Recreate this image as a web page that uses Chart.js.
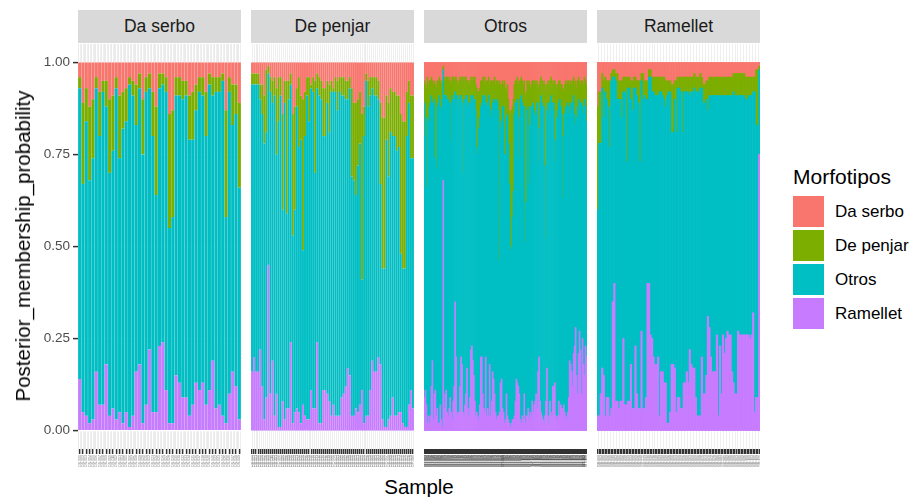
<!DOCTYPE html>
<html>
<head>
<meta charset="utf-8">
<script src="https://cdn.jsdelivr.net/npm/chart.js"></script>
<style>
  body { margin:0; background:#fff; width:914px; height:497px; position:relative; overflow:hidden;
         font-family:"Liberation Sans", Arial, sans-serif; }
  canvas { position:absolute; top:44px; }
  .strip { position:absolute; top:10px; height:33px; width:163px; background:#D9D9D9; color:#1A1A1A;
           font-size:17.5px; line-height:33px; text-align:center; }
  .ytitle { position:absolute; left:23px; top:246px; transform:translate(-50%,-50%) rotate(-90deg);
            font-size:20.5px; white-space:nowrap; color:#000; }
  .xtitle { position:absolute; left:419px; top:487px; transform:translate(-50%,-50%); font-size:20.5px; color:#000; }
  .legtitle { position:absolute; left:793px; top:165px; font-size:21px; color:#000; }
  .key { position:absolute; left:793px; width:31px; height:31px; }
  .leglab { position:absolute; left:835px; font-size:17px; color:#000; line-height:20px; }
</style>
</head>
<body>
<div class="strip" style="left:78px">Da serbo</div>
<div class="strip" style="left:251px">De penjar</div>
<div class="strip" style="left:424px">Otros</div>
<div class="strip" style="left:597px">Ramellet</div>

<canvas id="c1" width="241" height="429" style="left:0px"></canvas>
<canvas id="c2" width="163" height="429" style="left:251px"></canvas>
<canvas id="c3" width="163" height="429" style="left:424px"></canvas>
<canvas id="c4" width="163" height="429" style="left:597px"></canvas>

<div class="ytitle">Posterior_membership_probability</div>
<div class="xtitle">Sample</div>
<div id="legend"></div>

<script>
const morfotipos = ['Da serbo', 'De penjar', 'Otros', 'Ramellet'];
const colores = ['#F8766D', '#7CAE00', '#00BFC4', '#C77CFF'];
const yTicks = [0, 0.25, 0.5, 0.75, 1];

// Da serbo
const serboDS = [.04,.11,.07,.12,.10,.04,.08,.05,.05,.10,.09,.04,.09,.08,.07,.04,.05,.06,.03,.10,.04,.03,.08,.12,.03,.03,.04,.14,.13,.04,.04,.05,.05,.09,.08,.06,.04,.04,.08,.03,.04,.04,.04,.03,.13,.04,.06,.06,.11];
const serboDP = [.03,.22,.09,.20,.16,.03,.12,.03,.07,.20,.15,.03,.17,.10,.09,.02,.04,.11,.04,.15,.04,.04,.12,.24,.04,.03,.04,.31,.29,.05,.05,.05,.04,.12,.13,.07,.04,.05,.12,.03,.05,.04,.04,.02,.29,.04,.11,.08,.23];
const serboOT = [.79,.62,.80,.66,.71,.77,.73,.85,.70,.66,.70,.90,.69,.80,.79,.93,.87,.67,.75,.73,.85,.71,.75,.59,.70,.70,.81,.53,.56,.76,.78,.81,.82,.75,.72,.74,.81,.78,.73,.83,.72,.86,.85,.91,.56,.82,.67,.74,.63];
const serboRA = [.14,.05,.04,.02,.03,.16,.07,.07,.18,.04,.06,.03,.05,.02,.05,.01,.04,.16,.18,.02,.07,.22,.05,.05,.23,.24,.11,.02,.02,.15,.13,.09,.09,.04,.07,.13,.11,.13,.07,.11,.19,.06,.07,.04,.02,.10,.16,.12,.03];

// De penjar
const penjarDS = [.03,.03,.03,.03,.06,.06,.09,.02,.01,.04,.05,.04,.07,.04,.04,.14,.05,.05,.05,.03,.14,.12,.07,.04,.09,.10,.08,.04,.04,.06,.04,.05,.03,.04,.05,.07,.07,.05,.06,.05,.07,.04,.05,.04,.04,.04,.05,.05,.04,.07,.11,.11,.10,.08,.14,.12,.03,.05,.04,.04,.04,.04,.05,.11,.15,.15,.09,.11,.07,.08,.08,.09,.09,.14,.16,.16,.08,.05,.09,.09];
const penjarDP = [.03,.03,.03,.03,.04,.08,.13,.17,.02,.04,.06,.05,.18,.12,.05,.26,.06,.36,.05,.03,.33,.28,.05,.19,.12,.41,.12,.05,.12,.01,.04,.25,.04,.05,.05,.13,.13,.06,.13,.03,.01,.04,.08,.04,.05,.05,.05,.05,.03,.24,.21,.25,.18,.14,.45,.08,.02,.07,.05,.03,.05,.05,.05,.22,.41,.41,.12,.20,.12,.12,.12,.15,.14,.38,.40,.40,.12,.06,.17,.17];
const penjarOT = [.78,.74,.78,.78,.68,.74,.75,.72,.52,.82,.70,.87,.65,.83,.90,.52,.86,.53,.84,.70,.51,.55,.82,.72,.77,.42,.76,.88,.81,.82,.86,.64,.69,.89,.88,.69,.69,.79,.73,.88,.85,.88,.83,.88,.82,.81,.78,.73,.78,.65,.64,.58,.67,.71,.30,.78,.91,.84,.80,.74,.75,.75,.70,.49,.41,.43,.78,.66,.77,.71,.76,.72,.72,.43,.42,.43,.79,.82,.63,.68];
const penjarRA = [.16,.20,.16,.16,.22,.12,.03,.09,.45,.10,.19,.04,.10,.01,.01,.08,.03,.06,.06,.24,.02,.05,.06,.05,.02,.07,.04,.03,.03,.11,.06,.06,.24,.02,.02,.11,.11,.10,.08,.04,.07,.04,.04,.04,.09,.10,.12,.17,.15,.04,.04,.06,.05,.07,.11,.02,.04,.04,.11,.19,.16,.16,.20,.18,.03,.01,.01,.03,.04,.09,.04,.04,.05,.05,.02,.01,.01,.07,.11,.06];

// Otros
const otrosDS = [.05,.06,.07,.04,.06,.05,.05,.04,.05,.06, .05,.06,.07,.05,.05,.04,.05,.06,.05,.01,
  .04,.05,.04,.04,.05,.04,.05,.06,.04,.04, .05,.04,.04,.05,.06,.05,.04,.05,.04,.04,
  .05,.04,.04,.05,.05,.05,.06,.04,.05,.04, .05,.04,.06,.07,.08,.08,.07,.05,.05,.04,
  .05,.04,.06,.05,.05,.04,.06,.05,.05,.05, .05,.04,.06,.05,.05,.06,.05,.06,.06,.05,
  .06,.05,.07,.08,.06,.10,.13,.14,.13,.12, .10,.06,.05,.05,.04,.06,.05,.05,.04,.05,
  .06,.05,.09,.08,.05,.06,.05,.07,.06,.05, .05,.06,.05,.06,.05,.07,.06,.05,.04,.05,
  .06,.05,.06,.08,.06,.05,.06,.05,.04,.05, .06,.05,.05,.06,.07,.06,.05,.05,.06,.06,
  .07,.08,.06,.05,.06,.05,.05,.06,.05,.06, .05,.04,.06,.05,.07,.05,.04,.05,.06,.05,
  .05,.06,.04,.05,.06];
const otrosDP = [.06,.14,.08,.30,.10,.07,.06,.05,.06,.05, .05,.20,.22,.07,.06,.05,.08,.06,.05,.01,
  .05,.04,.05,.06,.05,.07,.06,.15,.05,.06, .05,.04,.05,.04,.06,.05,.05,.04,.07,.26,
  .05,.06,.05,.04,.07,.06,.05,.05,.06,.05, .05,.06,.07,.16,.17,.10,.08,.07,.06,.05,
  .05,.05,.05,.06,.07,.05,.06,.10,.08,.06, .05,.06,.05,.06,.05,.07,.49,.10,.12,.07,
  .06,.20,.18,.07,.08,.12,.20,.36,.38,.30, .25,.08,.06,.06,.06,.20,.10,.05,.05,.06,
  .06,.07,.40,.30,.08,.06,.28,.10,.06,.07, .06,.07,.10,.08,.06,.20,.12,.06,.05,.06,
  .06,.07,.42,.20,.07,.06,.08,.06,.05,.06, .07,.06,.22,.15,.08,.07,.06,.05,.06,.08,
  .30,.12,.08,.07,.06,.06,.07,.08,.06,.07, .06,.05,.08,.12,.08,.07,.06,.08,.05,.06,
  .07,.08,.06,.07,.10];
const otrosOT = [.80,.69,.78,.64,.80,.86,.85,.79,.70,.86, .80,.63,.67,.82,.87,.89,.80,.85,.89,.30,
  .85,.81,.80,.85,.86,.83,.80,.74,.88,.82, .78,.57,.71,.87,.83,.85,.79,.71,.71,.65,
  .86,.83,.81,.74,.82,.85,.80,.69,.66,.72, .75,.82,.83,.72,.71,.79,.78,.68,.69,.81,
  .84,.86,.69,.85,.82,.87,.70,.81,.79,.73, .76,.80,.84,.86,.86,.83,.41,.71,.68,.82,
  .83,.73,.72,.75,.82,.75,.65,.49,.47,.55, .62,.82,.81,.75,.77,.62,.75,.87,.89,.85,
  .85,.78,.49,.58,.83,.82,.64,.78,.84,.80, .84,.80,.77,.76,.83,.57,.62,.81,.86,.85,
  .85,.86,.48,.64,.70,.85,.84,.81,.86,.85, .75,.77,.60,.75,.82,.83,.81,.86,.81,.80,
  .57,.73,.81,.84,.85,.84,.79,.67,.71,.71, .77,.70,.63,.55,.70,.78,.69,.60,.67,.79,
  .63,.68,.75,.65,.64];
const otrosRA = [.09,.11,.07,.02,.04,.02,.04,.12,.19,.03, .10,.11,.04,.06,.02,.02,.07,.03,.01,.68,
  .06,.10,.11,.05,.04,.06,.09,.05,.03,.08, .12,.35,.20,.04,.05,.05,.12,.20,.18,.05,
  .04,.07,.10,.17,.06,.04,.09,.22,.23,.19, .15,.08,.04,.05,.04,.03,.07,.20,.20,.10,
  .06,.05,.20,.04,.06,.04,.18,.04,.08,.16, .14,.10,.05,.03,.04,.04,.05,.13,.14,.06,
  .05,.02,.03,.10,.04,.03,.02,.01,.02,.03, .03,.04,.08,.14,.13,.12,.10,.03,.02,.04,
  .03,.10,.02,.04,.04,.06,.03,.05,.04,.08, .05,.07,.08,.10,.06,.16,.20,.08,.05,.04,
  .03,.02,.04,.08,.17,.04,.02,.08,.05,.04, .12,.12,.13,.04,.03,.04,.08,.04,.07,.06,
  .06,.07,.05,.04,.03,.05,.09,.19,.18,.16, .12,.21,.23,.28,.15,.10,.21,.27,.22,.10,
  .25,.18,.15,.23,.20];

// Ramellet
const ramelletDS = [.12,.08,.08,.03,.05,.04,.05,.05,.05,.03, .02,.02,.03,.03,.05,.05,.05,.04,.04,.04,
  .04,.04,.05,.05,.04,.04,.05,.05,.05,.03, .03,.05,.05,.05,.02,.02,.04,.04,.04,.04,
  .04,.04,.04,.04,.04,.05,.05,.05,.05,.06, .06,.05,.05,.04,.04,.04,.04,.04,.04,.04,
  .04,.04,.04,.04,.03,.04,.04,.04,.03,.04, .06,.06,.05,.05,.04,.04,.04,.04,.04,.04,
  .04,.04,.04,.04,.04,.04,.04,.04,.04,.04, .03,.03,.03,.03,.03,.03,.03,.03,.04,.04,
  .04,.04,.04,.04,.04,.02,.02,.01];
const ramelletDP = [.28,.14,.14,.04,.10,.04,.05,.07,.18,.02, .02,.02,.02,.07,.05,.05,.10,.04,.04,.23,
  .03,.03,.05,.08,.03,.03,.04,.06,.22,.02, .07,.04,.05,.05,.02,.02,.04,.04,.05,.05,
  .05,.04,.04,.05,.06,.07,.04,.03,.03,.13, .13,.05,.14,.03,.03,.04,.15,.04,.04,.04,
  .04,.05,.04,.04,.04,.04,.04,.04,.04,.03, .05,.05,.05,.08,.05,.05,.05,.05,.05,.05,
  .05,.05,.05,.05,.05,.05,.05,.05,.05,.05, .05,.06,.06,.06,.06,.06,.06,.06,.06,.06,
  .05,.05,.05,.04,.04,.15,.15,.01];
const ramelletOT = [.56,.74,.68,.76,.70,.88,.81,.79,.73,.89, .61,.56,.87,.82,.84,.82,.77,.67,.85,.66,
  .85,.85,.72,.81,.87,.70,.81,.83,.67,.68, .84,.85,.81,.50,.56,.70,.67,.72,.73,.73,
  .71,.88,.76,.75,.77,.75,.89,.90,.87,.63, .63,.73,.76,.84,.84,.86,.75,.79,.79,.76,
  .79,.69,.74,.75,.76,.83,.88,.88,.89,.73, .79,.79,.75,.56,.63,.71,.75,.75,.75,.65,
  .87,.68,.81,.65,.70,.66,.64,.65,.65,.75, .79,.81,.81,.64,.65,.65,.65,.65,.64,.64,
  .65,.66,.65,.60,.87,.74,.74,.23];
const ramelletRA = [.04,.04,.10,.17,.15,.04,.09,.09,.04,.06, .35,.40,.08,.08,.06,.08,.08,.25,.07,.07,
  .08,.08,.18,.06,.06,.23,.10,.06,.06,.27, .06,.06,.09,.40,.40,.26,.25,.20,.18,.18,
  .20,.04,.16,.16,.13,.13,.02,.02,.05,.18, .18,.17,.05,.09,.09,.06,.06,.13,.13,.16,
  .13,.22,.18,.17,.17,.09,.04,.04,.04,.20, .10,.10,.15,.31,.28,.20,.16,.16,.16,.26,
  .04,.23,.10,.26,.21,.25,.27,.26,.26,.16, .13,.10,.10,.27,.26,.26,.26,.26,.26,.26,
  .26,.25,.26,.32,.05,.09,.09,.75];

// sample names are too small to read in the original; use running codes
function sampleIds(prefix, n) {
  return Array.from({length: n}, (_, i) => prefix + String(i + 1).padStart(3, '0'));
}
const serboSamples = sampleIds('DS-', serboDS.length);
const penjarSamples = sampleIds('DP-', penjarDS.length);
const otrosSamples = sampleIds('OT-', otrosDS.length);
const ramelletSamples = sampleIds('RA-', ramelletDS.length);

Chart.defaults.font.family = '"Liberation Sans", Arial, sans-serif';

const panelBg = {
  id: 'panelBg',
  beforeDraw(chart) {
    const a = chart.chartArea, ctx = chart.ctx;
    ctx.save();
    ctx.fillStyle = '#EBEBEB';
    ctx.fillRect(a.left, a.top, a.right - a.left, a.bottom - a.top);
    ctx.restore();
  }
};

function makePanel(id, samples, ds, dp, ot, ra, withY, barPct, labelColor) {
  const series = [ds, dp, ot, ra];
  // ramellet at the bottom, da serbo on top
  const datasets = [3, 2, 1, 0].map(k => ({
    label: morfotipos[k],
    data: series[k],
    backgroundColor: colores[k],
    borderWidth: 0,
    barPercentage: barPct,
    categoryPercentage: 1.0
  }));
  return new Chart(document.getElementById(id), {
    type: 'bar',
    data: { labels: samples, datasets: datasets },
    plugins: [panelBg],
    options: {
      responsive: false,
      animation: false,
      layout: { padding: 0, autoPadding: false },
      plugins: { legend: { display: false }, tooltip: { enabled: false } },
      scales: {
        x: {
          stacked: true,
          grid: { offset: false, color: '#FFFFFF', lineWidth: 1.2, tickColor: '#333333', tickLength: 5, tickWidth: 1.5 },
          border: { display: false },
          ticks: { autoSkip: false, minRotation: 90, maxRotation: 90, color: labelColor, font: { size: 3.5 }, padding: 1 },
          afterFit: s => { s.height = 24; s.paddingLeft = 0; s.paddingRight = 0; }
        },
        y: {
          stacked: true,
          display: withY,
          min: -0.05,
          max: 1.05,
          afterBuildTicks: s => { s.ticks = yTicks.map(v => ({ value: v })); },
          grid: { color: '#FFFFFF', lineWidth: 1.2, tickColor: '#333333', tickLength: 5, tickWidth: 1.5 },
          border: { display: false },
          ticks: { color: '#4D4D4D', font: { size: 13.5 }, padding: 3, callback: v => Number(v).toFixed(2) },
          afterFit: s => { s.width = withY ? 78 : 0; s.paddingTop = 0; s.paddingBottom = 0; }
        }
      }
    }
  });
}

makePanel('c1', serboSamples, serboDS, serboDP, serboOT, serboRA, true, 0.93, '#7A7A7A');
makePanel('c2', penjarSamples, penjarDS, penjarDP, penjarOT, penjarRA, false, 0.95, '#7A7A7A');
makePanel('c3', otrosSamples, otrosDS, otrosDP, otrosOT, otrosRA, false, 1.0, '#4D4D4D');
makePanel('c4', ramelletSamples, ramelletDS, ramelletDP, ramelletOT, ramelletRA, false, 1.0, '#A0A0A0');

// legend
const leg = document.getElementById('legend');
let html = '<div class="legtitle">Morfotipos</div>';
morfotipos.forEach((m, i) => {
  const top = 196 + i * 34;
  html += '<div class="key" style="top:' + top + 'px;background:' + colores[i] + '"></div>';
  html += '<div class="leglab" style="top:' + (top + 6) + 'px">' + m + '</div>';
});
leg.innerHTML = html;
</script>
</body>
</html>
